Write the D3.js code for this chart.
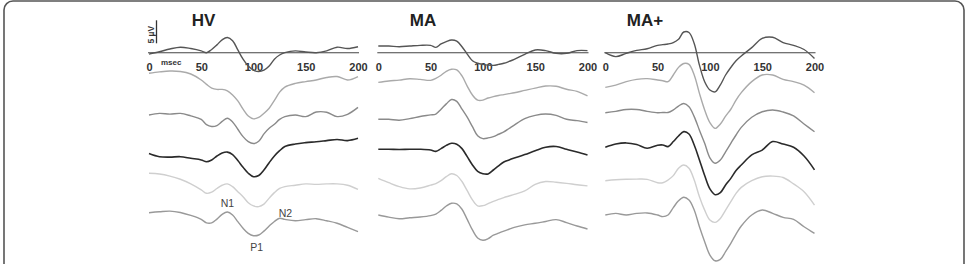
<!DOCTYPE html>
<html>
<head>
<meta charset="utf-8">
<script src="https://cdn.jsdelivr.net/npm/d3@7"></script>
<style>
  html, body { margin: 0; padding: 0; background: #fff; }
  svg { display: block; }
  text { font-family: "Liberation Sans", Arial, sans-serif; }
</style>
</head>
<body>
<svg id="chart" width="969" height="264"></svg>
<script>
// ---- data (µV, time in msec) ----
const times = [0,10,20,30,40,50,55,60,65,70,75,80,85,90,95,100,105,110,115,120,125,130,140,150,160,170,180,190,200];
const tickLabels = [0,50,100,150,200];
const panelNames = ["HV","MA","MA+"];
const peakLabels = ["N1","N2","P1"];

const HV_1 = [-0.3,0.2,0.8,1.2,0.9,0.4,0,0.7,1.7,2.8,3.3,2.6,0.6,-1.4,-2.9,-3.8,-4.1,-3.8,-2.9,-1.4,-0.5,0,0.4,0.15,0,0.4,1.2,0.9,1.3];
const HV_2 = [0,0.3,0.5,0.4,-0.15,-1.45,-2.4,-3.2,-3.5,-3.5,-3.8,-4.7,-6.0,-7.8,-9.3,-9.9,-9.6,-8.7,-7.6,-5.9,-4.1,-3.0,-2.2,-1.8,-1.45,-0.9,-0.7,-1.45,-0.7];
const HV_3 = [0,0.35,0.2,0.35,-0.2,-0.95,-2.1,-2.5,-2.3,-1.4,-0.7,-1.5,-3.1,-4.7,-5.8,-6.2,-5.7,-4.1,-2.9,-2.0,-0.95,-0.35,0,-0.35,0.65,0.6,-0.35,0.15,1.65];
const HV_4 = [0.7,0,-0.1,0,-0.35,-0.7,-1.1,-0.7,0.15,0.8,1.0,0.45,-0.85,-2.3,-3.6,-4.35,-4.1,-2.9,-1.3,0.15,1.3,2.2,2.75,3.05,3.25,3.5,3.75,3.5,4.0];
const HV_5 = [0,-0.15,-0.6,-1.3,-2.3,-3.6,-4.35,-4.1,-3.3,-2.6,-2.3,-2.9,-4.0,-5.1,-6.4,-7.1,-7.25,-6.7,-5.4,-4.2,-3.3,-2.9,-2.6,-2.3,-2.4,-2.3,-2.3,-2.6,-3.5];
const HV_6 = [0,0.2,0.35,0.05,-0.6,-1.45,-2.2,-2.2,-1.4,-0.35,0.15,-0.5,-1.95,-3.4,-4.5,-5.0,-4.85,-4.0,-2.9,-1.9,-1.2,-1.45,-1.75,-1.5,-1.3,-1.75,-2.3,-3.2,-4.1];

const MA_1 = [1.45,1.45,1.3,1.45,1.6,1.6,1.15,1.9,2.4,2.75,2.5,1.3,-0.3,-1.75,-2.3,-2.55,-2.7,-2.75,-2.55,-2.3,-1.9,-1.45,-0.35,0.6,0.45,-0.15,-0.15,0.45,0.45];
const MA_2 = [-0.15,0.15,0.35,0.65,0.5,0.3,0.7,1.4,2.25,2.7,2.55,1.25,-0.95,-2.9,-4.0,-4.0,-3.55,-3.25,-3.0,-2.8,-2.6,-2.4,-1.9,-1.4,-0.95,-1.0,-1.65,-2.1,-3.1];
const MA_3 = [0,0,-0.2,0.15,0.6,0.95,1.15,2.2,3.35,4.3,3.9,2.2,0.45,-1.6,-3.6,-4.2,-4.05,-3.75,-3.25,-2.75,-2.0,-1.25,0.15,0.85,1.15,0.85,0,-0.3,-0.7];
const MA_4 = [0,0,-0.05,0,0,-0.15,-0.45,0.15,0.85,1.3,1.1,0.15,-1.6,-3.4,-4.8,-5.3,-5.35,-4.5,-3.6,-2.75,-2.3,-1.9,-1.15,-0.3,0.45,0.6,0,-0.6,-1.25];
const MA_5 = [0,-0.95,-1.8,-2.3,-2.1,-1.5,-1.15,-0.5,0.35,1.0,0.6,-0.7,-2.7,-4.7,-6.0,-5.95,-5.5,-5.0,-4.6,-4.2,-3.85,-3.5,-2.75,-1.3,-0.7,-0.85,-1.1,-1.4,-1.65];
const MA_6 = [0,-0.45,-0.8,-0.6,-0.45,-0.15,0.2,1.0,1.95,2.55,2.4,1.25,-0.95,-3.25,-5.0,-5.5,-5.15,-4.4,-3.95,-3.5,-3.1,-2.7,-2.15,-1.8,-1.4,-1.0,-1.65,-2.4,-3.05];

const MAP_1 = [0,-0.85,-0.15,0.5,0.85,1.6,1.75,1.9,2.2,2.9,4.5,4.4,2.0,-2.7,-6.3,-8.1,-8.5,-7.0,-4.85,-3.2,-1.75,-0.7,1.1,3.1,3.35,2.2,1.6,0.7,-1.25];
const MAP_2 = [-0.15,0.35,1.1,1.6,1.75,1.45,1.3,1.1,2.55,4.2,5.05,4.85,2.55,-1.45,-5.05,-7.8,-9.05,-8.1,-6.4,-4.9,-2.9,-1.3,1.1,2.55,2.55,1.6,1.1,0.35,-1.3];
const MAP_3 = [0,0.3,0.7,0.7,0.3,0,0.05,0.05,0.6,1.45,2.0,1.3,-0.85,-3.8,-6.65,-9.8,-11.0,-10.3,-8.5,-6.65,-4.85,-3.2,-1.0,0.2,0.6,0.15,-0.7,-2.45,-4.15];
const MAP_4 = [0,0.7,0.95,0.6,-0.2,0.45,0.5,0.15,1.25,2.45,3.4,2.9,0.5,-2.75,-6.15,-9.05,-10.3,-9.85,-8.2,-6.75,-5.05,-3.85,-1.65,-0.6,1.25,0.7,0,-1.9,-4.9];
const MAP_5 = [0,0.2,0.3,0.35,0.3,-0.45,-0.45,0.15,1.1,2.7,3.4,2.7,0.15,-3.5,-6.4,-8.55,-9.05,-8.2,-6.4,-4.55,-2.75,-1.45,0,0.85,1.0,0.7,-0.7,-2.4,-5.3];
const MAP_6 = [0,0.35,0,0.35,0.45,0,-0.35,0,1.6,3.1,3.85,3.25,1.1,-2.55,-5.8,-8.7,-9.95,-9.65,-7.95,-6.15,-4.15,-2.4,0,1.1,0.35,-0.5,-0.95,-2.55,-4.0];

// ---- layout ----
const svg = d3.select("#chart");

// outer rounded frame
svg.append("rect")
  .attr("x", 4).attr("y", 1).attr("width", 960).attr("height", 300)
  .attr("rx", 9).attr("ry", 9)
  .attr("fill", "none").attr("stroke", "#555").attr("stroke-width", 1.6);

const traceColors = ["#555", "#aaa", "#8a8a8a", "#2a2a2a", "#cfcfcf", "#999"];
const traceWidths = [1.4, 1.4, 1.4, 1.6, 1.4, 1.4];

const panels = [
  { name: panelNames[0], traces: [HV_1,HV_2,HV_3,HV_4,HV_5,HV_6], x0: 149, x1: 358,
    base: [52.7, 73.3, 115, 156.7, 173.3, 212.7], titleX: 203.5 },
  { name: panelNames[1], traces: [MA_1,MA_2,MA_3,MA_4,MA_5,MA_6], x0: 378.3, x1: 587.5,
    base: [52.7, 81.7, 119.3, 149.3, 178.3, 215], titleX: 423 },
  { name: panelNames[2], traces: [MAP_1,MAP_2,MAP_3,MAP_4,MAP_5,MAP_6], x0: 605.3, x1: 814.5,
    base: [52.7, 86.7, 112.7, 147.3, 180.7, 215], titleX: 645 }
];

// amplitude scale: µV -> pixel offset
const amp = d3.scaleLinear().domain([0, 5]).range([0, -23]);

panels.forEach((p, pi) => {
  const x = d3.scaleLinear().domain([0, 200]).range([p.x0, p.x1]);
  const g = svg.append("g");

  // title
  g.append("text")
    .attr("x", p.titleX).attr("y", 26)
    .attr("text-anchor", "middle")
    .attr("font-size", 17).attr("font-weight", "bold")
    .attr("fill", "#222")
    .text(p.name);

  // time axis
  const axis = d3.axisBottom(x).tickValues(tickLabels).tickSize(0).tickPadding(11);
  const ax = g.append("g").attr("transform", `translate(0,${p.base[0]})`).call(axis);
  ax.select(".domain").attr("stroke", "#444").attr("stroke-width", 1.1)
    .attr("d", `M${p.x0 - 1},0H${p.x1 + 1}`);
  ax.selectAll(".tick text")
    .attr("font-size", 11).attr("font-weight", "bold")
    .attr("fill", "#333")
    .attr("font-family", "\"Liberation Sans\", Arial, sans-serif");

  // traces
  p.traces.forEach((vals, ti) => {
    const line = d3.line()
      .x((d, i) => x(times[i]))
      .y(d => p.base[ti] + amp(d))
      .curve(d3.curveCatmullRom.alpha(0.5));
    g.append("path")
      .attr("d", line(vals))
      .attr("fill", "none")
      .attr("stroke", traceColors[ti])
      .attr("stroke-width", traceWidths[ti])
      .attr("stroke-linejoin", "round");
  });

  if (pi === 0) {
    // msec label
    g.append("text")
      .attr("x", 161).attr("y", 64.5)
      .attr("font-size", 8).attr("font-weight", 600)
      .attr("fill", "#333")
      .text("msec");
    // 5 µV scale bar
    const barX = 156.5;
    g.append("line")
      .attr("x1", barX).attr("x2", barX)
      .attr("y1", 43.3).attr("y2", 43.3 + amp(5))
      .attr("stroke", "#333").attr("stroke-width", 1.3);
    g.append("text")
      .attr("transform", `translate(154,43.5) rotate(-90)`)
      .attr("font-size", 8.5).attr("font-weight", 600)
      .attr("fill", "#333")
      .text("5 µV");
    // component labels
    const lbl = [
      { t: peakLabels[0], x: 227.5, y: 206.7 },
      { t: peakLabels[1], x: 285.5, y: 216.7 },
      { t: peakLabels[2], x: 256.7, y: 250.7 }
    ];
    lbl.forEach(l => {
      g.append("text")
        .attr("x", l.x).attr("y", l.y)
        .attr("text-anchor", "middle")
        .attr("font-size", 10.5)
        .attr("fill", "#444")
        .text(l.t);
    });
  }
});
</script>
</body>
</html>
